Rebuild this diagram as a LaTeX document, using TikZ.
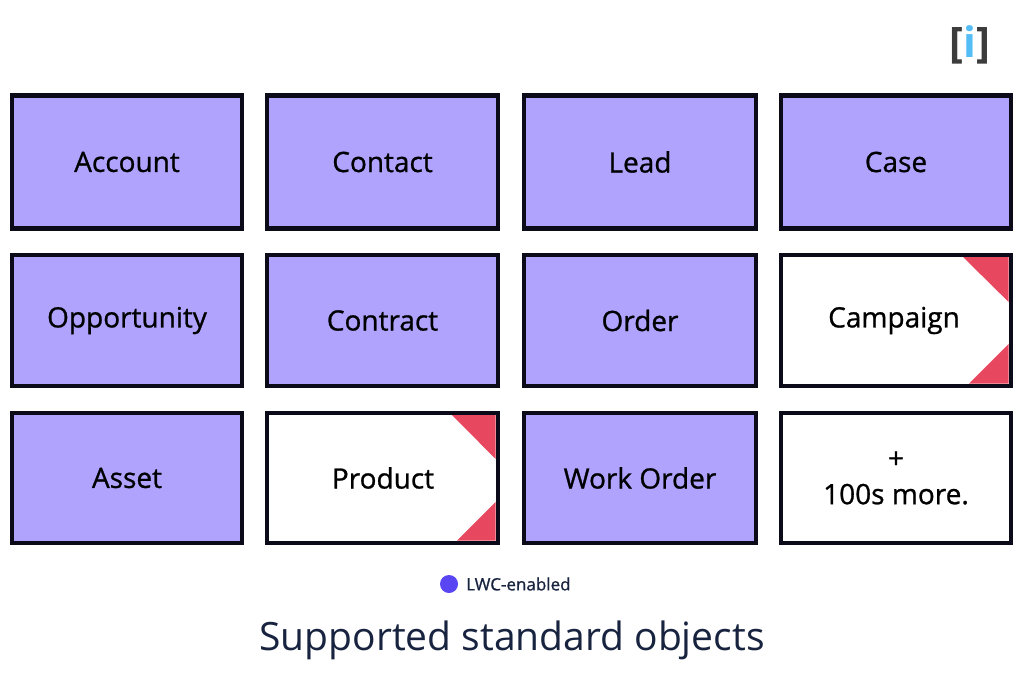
\documentclass[tikz,border=0pt]{standalone}
\usepackage{fontspec}
\setmainfont{Open Sans}
\newfontfamily\labelfont[FakeBold=0.9]{Open Sans}
\newfontfamily\logofont{Open Sans Bold}
\definecolor{lilac}{HTML}{B0A3FE}
\definecolor{edge}{HTML}{0A0A18}
\definecolor{flag}{HTML}{E7475F}
\definecolor{dot}{HTML}{5A45F2}
\definecolor{navy}{HTML}{18243F}
\definecolor{logogray}{HTML}{3C3C3C}
\definecolor{logoblue}{HTML}{54BDF5}
\tikzset{
  x=1pt,y=-1pt,
  obj/.style={draw=edge,line width=4.4pt,minimum width=#1-4.4pt,minimum height=132pt,inner sep=0pt,align=center,text=black,
    font=\labelfont\fontsize{28}{32}\selectfont},
  obj/.default=234pt,
  lwc/.style={obj=#1,fill=lilac},
  plain/.style={obj=#1,fill=white},
  flagtri/.style={fill=flag,draw=none},
  legend/.style={font=\labelfont\fontsize{17}{20}\selectfont,text=navy,inner sep=0pt,anchor=west},
  title/.style={font=\fontsize{39}{44}\selectfont,text=navy,inner sep=0pt},
  dotmark/.style={circle,fill=dot,minimum size=18pt,inner sep=0pt}
}
\begin{document}
\begin{tikzpicture}
\useasboundingbox (0,0) rectangle (1024,683);
\fill[white] (0,0) rectangle (1024,683);
% row 1
\node[lwc=234pt,minimum height=133pt] (account) at (127,162) {Account};
\node[lwc=235pt,minimum height=133pt] (contact) at (382.5,162) {Contact};
\node[lwc=236pt,minimum height=133pt] (lead) at (640,162) {Lead};
\node[lwc=234pt,minimum height=133pt] (case) at (896,162) {Case};
% row 2
\node[lwc=234pt,minimum height=131pt] (opportunity) at (127,320.5) {Opportunity};
\node[lwc=235pt,minimum height=131pt] (contract) at (382.5,320.5) {Contract};
\node[lwc=236pt,minimum height=131pt] (order) at (640,320.5) {Order};
\node[plain=234pt,minimum height=131pt] (campaign) at (896,320.5) {};
% row 3
\node[lwc=234pt,minimum height=130pt] (asset) at (127,478) {Asset};
\node[plain=235pt,minimum height=130pt] (product) at (382.5,478) {};
\node[lwc=236pt,minimum height=130pt] (workorder) at (640,478) {Work Order};
\node[plain=234pt,minimum height=130pt,font=\labelfont\fontsize{28}{36}\selectfont] (more) at (896,478) {+\\100s more.};
% corner flags
\fill[flagtri] (963,257) -- (1008.6,257) -- (1008.6,302) -- cycle;
\fill[flagtri] (1008.6,344) -- (1008.6,383.5) -- (969,383.5) -- cycle;
\fill[flagtri] (452,415) -- (495.6,415) -- (495.6,459) -- cycle;
\fill[flagtri] (495.6,502) -- (495.6,540.5) -- (457,540.5) -- cycle;
\node[font=\labelfont\fontsize{28}{32}\selectfont,inner sep=0pt] (campaignlabel) at (894,320.5) {Campaign};
\node[font=\labelfont\fontsize{28}{32}\selectfont,inner sep=0pt] (productlabel) at (383,478) {Product};
% legend
\node[dotmark] (legenddot) at (449,584) {};
\node[legend] (legendtext) at (466,584) {LWC-enabled};
% title
\node[title] (caption) at (512,640) {Supported standard objects};
% logo
\node[inner sep=0pt,font=\logofont\fontsize{42}{46}\selectfont] (logo) at (970,45) {\textcolor{logogray}{[}\textcolor{logoblue}{i}\textcolor{logogray}{]}};
\end{tikzpicture}
\end{document}
